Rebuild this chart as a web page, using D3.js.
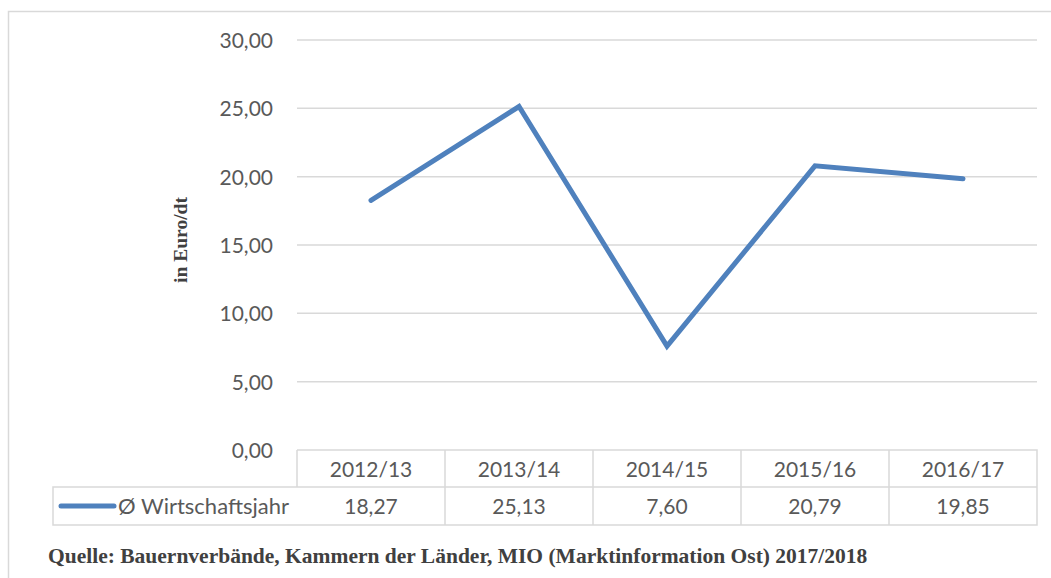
<!DOCTYPE html>
<html>
<head>
<meta charset="utf-8">
<script src="https://cdn.jsdelivr.net/npm/d3@7"></script>
<style>
  body { margin: 0; background: #fff; }
  text { font-family: Lato, "Open Sans", sans-serif; fill: #595959; }
  .serif { font-family: "Liberation Serif", "DejaVu Serif", serif; font-weight: bold; }
</style>
</head>
<body>
<div id="chart"></div>
<script>
var years = ["2012/13", "2013/14", "2014/15", "2015/16", "2016/17"];
var values = [18.27, 25.13, 7.60, 20.79, 19.85];
var yTicks = [0, 5, 10, 15, 20, 25, 30];
var seriesName = "Ø Wirtschaftsjahr";
var yLabel = "in Euro/dt";
var source = "Quelle: Bauernverbände, Kammern der Länder, MIO (Marktinformation Ost) 2017/2018";

var W = 1051, H = 578;
var svg = d3.select("#chart").append("svg").attr("width", W).attr("height", H);

// plot area (named so they don't clash with window.top)
var plotL = 297, plotR = 1037, plotT = 40, plotB = 450;
var legendLeft = 53, row1 = 487, row2 = 525;

var fmt = function(v) { return v.toFixed(2).replace(".", ","); };

var x = d3.scaleBand().domain(years).range([plotL, plotR]);
var y = d3.scaleLinear().domain([0, 30]).range([plotB, plotT]);

// outer frame
svg.append("path")
    .attr("d", "M8.5,578 V11.5 H1051")
    .attr("fill", "none").attr("stroke", "#d9d9d9").attr("stroke-width", 1.5);

// grid
svg.append("g").selectAll("line")
  .data(yTicks.filter(function(d) { return d > 0; }))
  .enter().append("line")
    .attr("x1", plotL).attr("x2", plotR)
    .attr("y1", function(d) { return y(d); }).attr("y2", function(d) { return y(d); })
    .attr("stroke", "#d9d9d9").attr("stroke-width", 1.5);

// y tick labels
svg.append("g").selectAll("text")
  .data(yTicks)
  .enter().append("text")
    .attr("x", 273)
    .attr("y", function(d) { return y(d) + 8; })
    .attr("text-anchor", "end")
    .attr("font-size", 21)
    .text(fmt);

// y axis title
svg.append("text")
    .attr("class", "serif")
    .attr("transform", "translate(187,240) rotate(-90)")
    .attr("text-anchor", "middle")
    .attr("font-size", 19.5)
    .style("fill", "#404040")
    .text(yLabel);

// data table
var grid = svg.append("g").attr("stroke", "#d9d9d9").attr("stroke-width", 1.5).attr("fill", "none");
grid.append("path").attr("d",
  "M" + plotL + "," + plotB + "H" + plotR + "V" + row2 + "H" + legendLeft + "V" + row1 + "H" + plotR +
  "M" + legendLeft + "," + row1 + "H" + plotL + "V" + plotB);
grid.selectAll(".sep")
  .data(years.slice(1))
  .enter().append("line")
    .attr("x1", function(d) { return x(d); }).attr("x2", function(d) { return x(d); })
    .attr("y1", plotB).attr("y2", row2);

svg.append("g").selectAll("text")
  .data(years)
  .enter().append("text")
    .attr("x", function(d) { return x(d) + x.bandwidth() / 2; })
    .attr("y", (plotB + row1) / 2 + 8)
    .attr("text-anchor", "middle")
    .attr("font-size", 21)
    .text(function(d) { return d; });

svg.append("g").selectAll("text")
  .data(values)
  .enter().append("text")
    .attr("x", function(d, i) { return x(years[i]) + x.bandwidth() / 2; })
    .attr("y", (row1 + row2) / 2 + 8)
    .attr("text-anchor", "middle")
    .attr("font-size", 21)
    .text(fmt);

// legend key
svg.append("line")
    .attr("x1", 61).attr("x2", 114)
    .attr("y1", (row1 + row2) / 2).attr("y2", (row1 + row2) / 2)
    .attr("stroke", "#4f81bd").attr("stroke-width", 5).attr("stroke-linecap", "round");
svg.append("text")
    .attr("x", 289).attr("y", (row1 + row2) / 2 + 8)
    .attr("text-anchor", "end")
    .attr("font-size", 22)
    .text(seriesName);

// series line
var line = d3.line()
    .x(function(d, i) { return x(years[i]) + x.bandwidth() / 2; })
    .y(function(d) { return y(d); });

svg.append("path")
    .datum(values)
    .attr("d", line)
    .attr("fill", "none")
    .attr("stroke", "#4f81bd")
    .attr("stroke-width", 5)
    .attr("stroke-linecap", "round")
    .attr("stroke-linejoin", "miter");

// source
svg.append("text")
    .attr("class", "serif")
    .attr("x", 48).attr("y", 563)
    .attr("font-size", 21.5)
    .style("fill", "#404040")
    .text(source);
</script>
</body>
</html>
